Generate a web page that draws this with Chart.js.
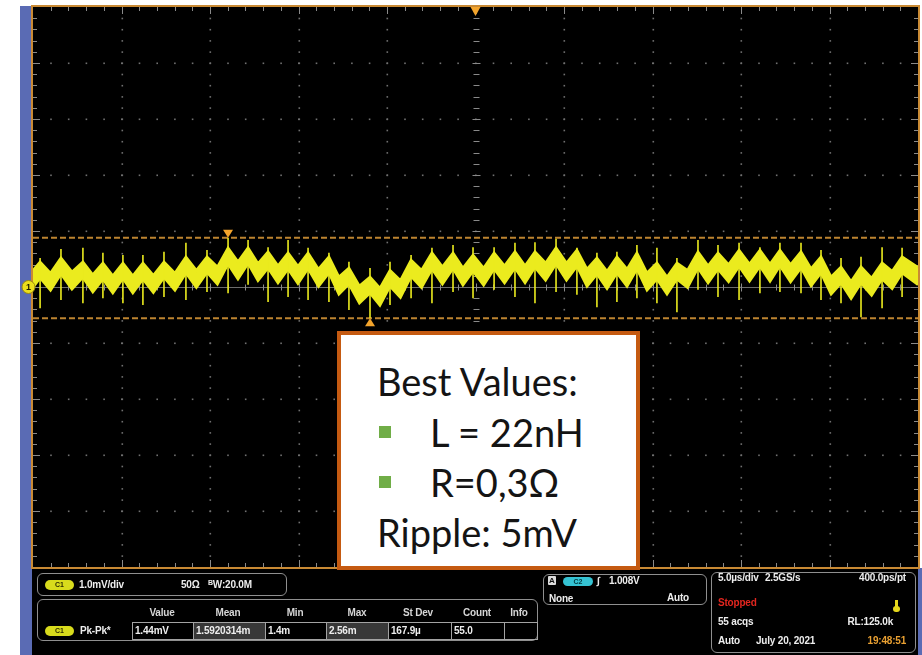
<!DOCTYPE html>
<html>
<head>
<meta charset="utf-8">
<script src="https://cdn.jsdelivr.net/npm/chart.js@4.4.1/dist/chart.umd.min.js"></script>
<style>
  html, body { margin: 0; padding: 0; background: #fff; }
  #wrap { position: relative; width: 922px; height: 655px; overflow: hidden; }
  #scope { position: absolute; left: 0; top: 0; }
  .t { position: absolute; font-family: "Liberation Sans", Arial, sans-serif; font-weight: bold;
       font-size: 10px; line-height: 12px; color: #ededed; white-space: nowrap; letter-spacing: -0.2px; }
  .hd { color: #d6d6d6; text-align: center; width: 50px; margin-left: -25px; }
  .box { position: absolute; border: 1px solid #8f8f8f; border-radius: 6px; box-sizing: border-box; }
  .pill { position: absolute; border-radius: 6px; font-family: "Liberation Sans", Arial, sans-serif;
          font-weight: bold; font-size: 7px; line-height: 10px; text-align: center; color: #2e2e00; }
  .c1 { background: #d8db1c; }
  .c2 { background: #35c3d3; color: #003a40; }
  .cell { position: absolute; top: 622px; height: 18px; border: 1px solid #a3a3a3; box-sizing: border-box;
          font-family: "Liberation Sans", Arial, sans-serif; font-weight: bold; font-size: 10px;
          line-height: 16px; padding-left: 2px; color: #ededed; white-space: nowrap; letter-spacing: -0.2px; }
  .hl { background: #383838; }
  #note { position: absolute; left: 337px; top: 331px; width: 303px; height: 239px; box-sizing: border-box;
          border: 4px solid #c55a11; background: #fff; }
  .nl { position: absolute; font-family: Lato, "Open Sans", "Noto Sans", sans-serif; font-size: 38px;
        line-height: 38px; color: #141414; white-space: nowrap; }
  .sq { position: absolute; width: 12px; height: 12px; background: #70ad47; }
</style>
</head>
<body>
<div id="wrap">
  <canvas id="scope" width="922" height="655"></canvas>

  <!-- channel setup -->
  <div class="box" style="left:37px;top:573px;width:250px;height:23px"></div>
  <div class="pill c1" style="left:45px;top:580px;width:29px;height:10px">C1</div>
  <div class="t" style="left:79px;top:579px">1.0mV/div</div>
  <div class="t" style="left:181px;top:579px">50Ω</div>
  <div class="t" style="left:208px;top:579px"><span style="font-size:7px;position:relative;top:-3px">B</span>W:20.0M</div>

  <!-- measurement table -->
  <div class="box" style="left:37px;top:599px;width:501px;height:42px"></div>
  <div class="t hd" style="left:162px;top:607px">Value</div>
  <div class="t hd" style="left:228px;top:607px">Mean</div>
  <div class="t hd" style="left:295px;top:607px">Min</div>
  <div class="t hd" style="left:357px;top:607px">Max</div>
  <div class="t hd" style="left:418px;top:607px">St Dev</div>
  <div class="t hd" style="left:477px;top:607px">Count</div>
  <div class="t hd" style="left:519px;top:607px">Info</div>
  <div class="pill c1" style="left:45px;top:626px;width:29px;height:10px">C1</div>
  <div class="t" style="left:80px;top:625px">Pk-Pk*</div>
  <div class="cell" style="left:132px;width:62px">1.44mV</div>
  <div class="cell hl" style="left:193px;width:73px">1.5920314m</div>
  <div class="cell" style="left:265px;width:62px">1.4m</div>
  <div class="cell hl" style="left:326px;width:63px">2.56m</div>
  <div class="cell" style="left:388px;width:64px">167.9µ</div>
  <div class="cell" style="left:451px;width:54px">55.0</div>
  <div class="cell" style="left:504px;width:34px"></div>

  <!-- trigger -->
  <div class="box" style="left:543px;top:574px;width:164px;height:31px"></div>
  <div class="pill" style="left:548px;top:576px;width:8px;height:9px;border-radius:1px;background:#dcdcdc;color:#111;font-size:8px;line-height:9px">A</div>
  <div class="pill c2" style="left:563px;top:577px;width:30px;height:9px;line-height:9px">C2</div>
  <div class="t" style="left:597px;top:575px">∫</div>
  <div class="t" style="left:609px;top:575px">1.008V</div>
  <div class="t" style="left:549px;top:593px">None</div>
  <div class="t" style="left:639px;top:592px;width:50px;text-align:right">Auto</div>

  <!-- acquisition / time base -->
  <div class="box" style="left:711px;top:572px;width:205px;height:81px"></div>
  <div class="t" style="left:718px;top:572px">5.0µs/div</div>
  <div class="t" style="left:765px;top:572px">2.5GS/s</div>
  <div class="t" style="left:836px;top:572px;width:70px;text-align:right">400.0ps/pt</div>
  <div class="t" style="left:718px;top:597px;color:#e3261f">Stopped</div>
  <div style="position:absolute;left:895px;top:600px;width:3px;height:8px;background:#e6d81c"></div>
  <div style="position:absolute;left:893px;top:606px;width:7px;height:6px;border-radius:3px;background:#e6d81c"></div>
  <div class="t" style="left:718px;top:616px">55 acqs</div>
  <div class="t" style="left:823px;top:616px;width:70px;text-align:right">RL:125.0k</div>
  <div class="t" style="left:718px;top:635px">Auto</div>
  <div class="t" style="left:756px;top:635px">July 20, 2021</div>
  <div class="t" style="left:836px;top:635px;width:70px;text-align:right;color:#e9a032">19:48:51</div>

  <!-- annotation -->
  <div id="note"></div>
  <div class="nl" style="left:377px;top:362px">Best Values:</div>
  <div class="sq" style="left:379px;top:426px"></div>
  <div class="nl" style="left:430px;top:413px">L = 22nH</div>
  <div class="sq" style="left:379px;top:476px"></div>
  <div class="nl" style="left:430px;top:463px">R=0,3Ω</div>
  <div class="nl" style="left:377px;top:513px">Ripple: 5mV</div>
</div>

<script>
// Horizontal: 5 µs/div over 10 divisions; vertical: 1 mV/div over 10 divisions
const timeDivs = [-25, -20, -15, -10, -5, 0, 5, 10, 15, 20, 25];   // µs
const voltDivs = [-5, -4, -3, -2, -1, 0, 1, 2, 3, 4, 5];            // mV

// Switching spikes of the ripple waveform (µs)
const spikeTime = [-24.60, -23.42, -22.18, -21.05, -19.92, -18.79, -17.60, -16.36, -15.17, -13.98,
                   -12.85, -11.72, -10.59, -9.46, -8.28, -7.15, -5.96, -4.83, -3.64, -2.46,
                   -1.27, -0.14, 1.05, 2.23, 3.36, 4.55, 5.73, 6.86, 7.99, 9.12,
                   10.25, 11.38, 12.57, 13.70, 14.89, 16.07, 17.20, 18.39, 19.52, 20.65,
                   21.78, 22.97, 24.10];
// Spike excursions (mV)
const spikeHigh = [0.52, 0.68, 0.70, 0.61, 0.57, 0.57, 0.63, 0.79, 0.66, 0.88,
                   0.84, 0.71, 0.84, 0.70, 0.61, 0.45, 0.34, 0.45, 0.57, 0.70,
                   0.75, 0.71, 0.71, 0.79, 0.80, 0.86, 0.70, 0.61, 0.63, 0.75,
                   0.70, 0.52, 0.84, 0.75, 0.79, 0.71, 0.79, 0.79, 0.66, 0.52,
                   0.54, 0.71, 0.70];
const spikeLow = [-0.38, -0.23, -0.29, -0.20, -0.29, -0.32, -0.18, -0.23, -0.09, -0.11,
                  0.04, -0.27, -0.18, -0.23, -0.27, -0.41, -0.56, -0.32, -0.20, -0.29,
                  -0.09, -0.20, -0.05, -0.18, -0.29, -0.09, -0.14, -0.36, -0.27, -0.20,
                  -0.29, -0.45, -0.05, -0.18, -0.23, -0.11, -0.09, -0.11, -0.23, -0.29,
                  -0.54, -0.38, -0.18];
// Noise band edges at each ripple crest (mV)
const crestTop = [0.45, 0.52, 0.45, 0.43, 0.43, 0.43, 0.45, 0.54, 0.54, 0.70,
                  0.70, 0.63, 0.61, 0.61, 0.54, 0.34, 0.18, 0.30, 0.48, 0.61,
                  0.61, 0.57, 0.61, 0.63, 0.63, 0.70, 0.66, 0.52, 0.54, 0.61,
                  0.43, 0.43, 0.63, 0.61, 0.66, 0.66, 0.66, 0.63, 0.54, 0.36,
                  0.36, 0.43, 0.54];
const crestBottom = [0.16, 0.23, 0.17, 0.14, 0.15, 0.14, 0.17, 0.25, 0.26, 0.41,
                     0.42, 0.34, 0.32, 0.33, 0.25, 0.05, -0.11, 0.01, 0.19, 0.32,
                     0.33, 0.28, 0.32, 0.34, 0.35, 0.41, 0.37, 0.23, 0.25, 0.32,
                     0.14, 0.14, 0.34, 0.32, 0.37, 0.37, 0.38, 0.34, 0.25, 0.07,
                     0.07, 0.14, 0.25];
// Ripple valleys between spikes, including both record ends (µs, mV)
const valleyTime = [-25, -24.01, -22.80, -21.62, -20.49, -19.36, -18.20, -16.98, -15.77, -14.58, -13.42,
                    -12.29, -11.16, -10.03, -8.87, -7.72, -6.56, -5.40, -4.24, -3.05, -1.87,
                    -0.71, 0.46, 1.64, 2.80, 3.96, 5.14, 6.30, 7.43, 8.56, 9.69,
                    10.82, 11.98, 13.14, 14.30, 15.48, 16.64, 17.80, 18.96, 20.09, 21.22,
                    22.38, 23.54, 25];
const valleyTop = [0.30, 0.25, 0.27, 0.22, 0.20, 0.20, 0.21, 0.25, 0.30, 0.36, 0.45,
                   0.42, 0.38, 0.37, 0.32, 0.18, 0.02, -0.02, 0.12, 0.30, 0.36,
                   0.34, 0.34, 0.38, 0.38, 0.43, 0.43, 0.32, 0.28, 0.32, 0.25,
                   0.18, 0.30, 0.38, 0.40, 0.41, 0.41, 0.40, 0.33, 0.18, 0.10,
                   0.16, 0.28, 0.35];
const valleyBottom = [-0.01, -0.06, -0.04, -0.09, -0.11, -0.11, -0.10, -0.06, -0.01, 0.05, 0.14,
                      0.11, 0.07, 0.06, 0.01, -0.13, -0.29, -0.33, -0.19, -0.01, 0.05,
                      0.03, 0.03, 0.07, 0.07, 0.12, 0.12, 0.01, -0.03, 0.01, -0.06,
                      -0.13, -0.01, 0.07, 0.09, 0.10, 0.10, 0.09, 0.02, -0.13, -0.21,
                      -0.15, -0.03, 0.04];

// Horizontal cursors (mV) and max / min markers
const cursorLevels = [0.88, -0.56];
const markerTime = [-13.98, -5.96];
const markerLevel = [0.88, -0.56];
const triggerTime = 0;
const groundLevel = 0;

const TRACE = '#ebeb1e';
const CURSOR = '#bd8430';
const ORANGE = '#f3a42c';

function bandEdge(crest, valley) {
  const pts = [{ x: valleyTime[0], y: valley[0] }];
  spikeTime.forEach((t, i) => {
    pts.push({ x: t, y: crest[i] });
    pts.push({ x: valleyTime[i + 1], y: valley[i + 1] });
  });
  return pts;
}

const spikePts = [];
spikeTime.forEach((t, i) => {
  spikePts.push({ x: t, y: spikeLow[i] }, { x: t, y: spikeHigh[i] }, { x: t, y: null });
});

const scopeScreen = {
  id: 'scopeScreen',
  beforeDraw(chart) {
    const { ctx, chartArea: a, scales: { x, y } } = chart;
    const W = chart.width, H = chart.height;
    ctx.save();
    ctx.fillStyle = '#ffffff';
    ctx.fillRect(0, 0, W, H);
    // window frame
    ctx.fillStyle = '#5a6bb4';
    ctx.fillRect(20, a.top - 1, 12, H - a.top + 1);
    ctx.fillRect(a.right, a.bottom + 1, W - a.right, H - a.bottom);
    // screen and status bar
    ctx.fillStyle = '#000';
    ctx.fillRect(a.left, a.top, a.right - a.left, a.bottom - a.top);
    ctx.fillRect(32, a.bottom + 1, a.right - 32, H - a.bottom);

    // graticule dots along major divisions
    ctx.fillStyle = '#707070';
    const x0 = timeDivs[0];
    const y0 = voltDivs[0];
    timeDivs.slice(1, -1).forEach(t => {
      if (t === 0) return;
      const px = Math.round(x.getPixelForValue(t));
      for (let k = 1; k < 50; k++) {
        const py = y.getPixelForValue(y0 + k * 0.2);
        ctx.fillRect(px - 0.5, py - 0.5, 1.6, 1.6);
      }
    });
    voltDivs.slice(1, -1).forEach(v => {
      if (v === 0) return;
      const py = Math.round(y.getPixelForValue(v));
      for (let k = 1; k < 50; k++) {
        const px = x.getPixelForValue(x0 + k);
        ctx.fillRect(px - 0.5, py - 0.5, 1.6, 1.6);
      }
    });

    // centre cross with minor ticks
    ctx.lineWidth = 1;
    const cx = Math.round(x.getPixelForValue(0)) + 0.5;
    const cy = Math.round(y.getPixelForValue(0)) + 0.5;
    ctx.beginPath();
    ctx.strokeStyle = '#6c6c6c';
    ctx.moveTo(a.left, cy); ctx.lineTo(a.right, cy);
    ctx.stroke();
    ctx.strokeStyle = '#8a8a8a';
    ctx.beginPath();
    for (let k = 1; k < 50; k++) {
      const px = Math.round(x.getPixelForValue(x0 + k)) + 0.5;
      const len = k % 5 === 0 ? 4 : 3;
      ctx.moveTo(px, cy - len); ctx.lineTo(px, cy + len);
      const py = Math.round(y.getPixelForValue(y0 + k * 0.2)) + 0.5;
      ctx.moveTo(cx - len, py); ctx.lineTo(cx + len, py);
    }
    ctx.stroke();

    // edge ticks
    ctx.beginPath();
    for (let k = 1; k < 50; k++) {
      const px = Math.round(x.getPixelForValue(x0 + k)) + 0.5;
      const len = k % 5 === 0 ? 7 : 4;
      ctx.moveTo(px, a.top); ctx.lineTo(px, a.top + len);
      ctx.moveTo(px, a.bottom); ctx.lineTo(px, a.bottom - len);
      const py = Math.round(y.getPixelForValue(y0 + k * 0.2)) + 0.5;
      ctx.moveTo(a.left, py); ctx.lineTo(a.left + len, py);
      ctx.moveTo(a.right, py); ctx.lineTo(a.right - len, py);
    }
    ctx.stroke();

    // screen bezel
    ctx.strokeStyle = '#c98a34';
    ctx.lineWidth = 2;
    ctx.strokeRect(a.left - 1, a.top - 1, a.right - a.left + 2, a.bottom - a.top + 2);
    ctx.restore();
  },
  beforeDatasetsDraw(chart) {
    // phosphor-like softness of the acquired trace
    chart.ctx.save();
    chart.ctx.filter = 'blur(0.6px)';
  },
  afterDatasetsDraw(chart) {
    chart.ctx.restore();
    const { ctx, chartArea: a, scales: { x, y } } = chart;
    ctx.save();
    // trigger position marker
    const tx = x.getPixelForValue(triggerTime);
    ctx.fillStyle = ORANGE;
    ctx.beginPath();
    ctx.moveTo(tx - 5, a.top); ctx.lineTo(tx + 5, a.top); ctx.lineTo(tx, a.top + 9);
    ctx.closePath(); ctx.fill();
    // max / min markers, tips on the measured levels
    markerTime.forEach((t, i) => {
      const px = x.getPixelForValue(t), py = y.getPixelForValue(markerLevel[i]);
      const dir = markerLevel[i] >= 0 ? -1 : 1;
      ctx.beginPath();
      ctx.moveTo(px, py);
      ctx.lineTo(px - 5, py + dir * 8);
      ctx.lineTo(px + 5, py + dir * 8);
      ctx.closePath(); ctx.fill();
    });
    // channel 1 ground reference
    const gy = y.getPixelForValue(groundLevel);
    ctx.beginPath();
    ctx.arc(28.5, gy, 6.5, 0, Math.PI * 2);
    ctx.fillStyle = '#ecdf1c';
    ctx.fill();
    ctx.strokeStyle = '#9a8a10';
    ctx.lineWidth = 1;
    ctx.stroke();
    ctx.fillStyle = '#1a1a00';
    ctx.font = 'bold 9px "Liberation Sans", Arial, sans-serif';
    ctx.textAlign = 'center';
    ctx.textBaseline = 'middle';
    ctx.fillText('1', 28.5, gy + 0.5);
    ctx.restore();
  }
};

new Chart(document.getElementById('scope'), {
  type: 'line',
  data: {
    datasets: [
      { label: 'Spikes', data: spikePts, borderColor: TRACE, borderWidth: 1.6,
        pointRadius: 0, spanGaps: false, tension: 0, fill: false },
      { label: 'Band top', data: bandEdge(crestTop, valleyTop), borderColor: TRACE,
        backgroundColor: TRACE, borderWidth: 2.5, pointRadius: 0, tension: 0, fill: '+1' },
      { label: 'Band bottom', data: bandEdge(crestBottom, valleyBottom), borderColor: TRACE,
        borderWidth: 2.5, pointRadius: 0, tension: 0, fill: false },
      { label: 'Cursor a', data: [{ x: -25, y: cursorLevels[0] }, { x: 25, y: cursorLevels[0] }],
        borderColor: CURSOR, borderWidth: 2, borderDash: [6, 3], pointRadius: 0, fill: false },
      { label: 'Cursor b', data: [{ x: -25, y: cursorLevels[1] }, { x: 25, y: cursorLevels[1] }],
        borderColor: CURSOR, borderWidth: 2, borderDash: [6, 3], pointRadius: 0, fill: false }
    ]
  },
  options: {
    responsive: false,
    animation: false,
    devicePixelRatio: 1,
    layout: { padding: { left: 33, right: 4, top: 7, bottom: 88 } },
    scales: {
      x: { type: 'linear', min: timeDivs[0], max: timeDivs[timeDivs.length - 1], display: false },
      y: { type: 'linear', min: voltDivs[0], max: voltDivs[voltDivs.length - 1], display: false }
    },
    plugins: { legend: { display: false }, tooltip: { enabled: false } }
  },
  plugins: [scopeScreen]
});
</script>
</body>
</html>
